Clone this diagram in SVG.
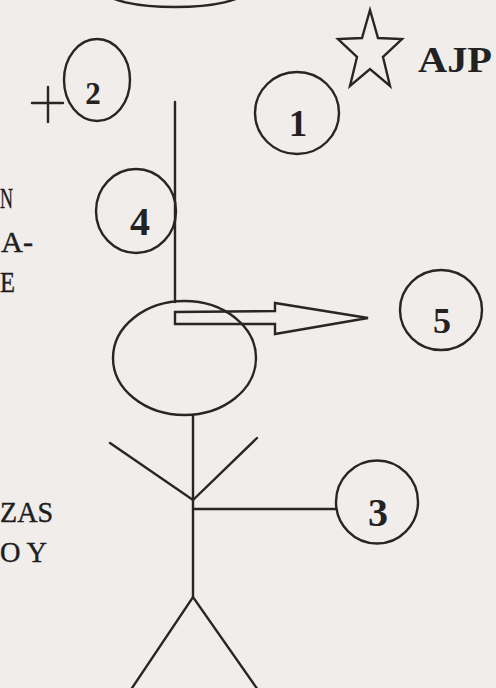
<svg xmlns="http://www.w3.org/2000/svg" width="496" height="688" viewBox="0 0 496 688">
  <style>
    .ln { fill: none; stroke: #262626; stroke-width: 2.4; stroke-linecap: round; stroke-linejoin: miter; }
    .num { font-family: "Liberation Serif", "Times New Roman", serif; font-weight: bold; fill: #222; text-anchor: middle; }
    .side { font-family: "Liberation Serif", "Times New Roman", serif; fill: #1e1e1e; stroke: #1e1e1e; stroke-width: 0.4; font-size: 29px; }
  </style>
  <rect x="0" y="0" width="496" height="688" fill="#f0edea"/>

  <g id="top-arc">
    <ellipse class="ln" cx="175" cy="-9" rx="70" ry="16"/>
  </g>

  <g id="side-text">
    <text class="side" x="0" y="208" textLength="13" lengthAdjust="spacingAndGlyphs">N</text>
    <text class="side" x="1" y="252" textLength="32" lengthAdjust="spacingAndGlyphs">A-</text>
    <text class="side" x="0" y="292" textLength="15" lengthAdjust="spacingAndGlyphs">E</text>
    <text class="side" x="0" y="522" textLength="53" lengthAdjust="spacingAndGlyphs">ZAS</text>
    <text class="side" x="0" y="562" textLength="47" lengthAdjust="spacingAndGlyphs">O Y</text>
  </g>

  <g id="plus">
    <path class="ln" d="M48,87 V122 M32,103 H63"/>
  </g>

  <g id="node-2">
    <ellipse class="ln" cx="97" cy="80" rx="33" ry="41"/>
    <text class="num" x="93" y="104" font-size="31">2</text>
  </g>

  <g id="node-1">
    <ellipse class="ln" cx="297" cy="113" rx="42" ry="41"/>
    <text class="num" x="298" y="136" font-size="37">1</text>
  </g>

  <g id="star-ajp">
    <polygon class="ln" points="370,10 378,38 402,39 383,57 390,86 370,69 350,86 357,57 338,39 362,38"/>
    <text x="418" y="72" font-family="Liberation Serif, Times New Roman, serif" font-weight="bold" font-size="36" fill="#222" textLength="74" lengthAdjust="spacingAndGlyphs">AJP</text>
  </g>

  <g id="node-4">
    <ellipse class="ln" cx="136" cy="211" rx="40" ry="42"/>
    <text class="num" x="140" y="235" font-size="40">4</text>
  </g>

  <g id="node-5">
    <ellipse class="ln" cx="441" cy="310" rx="41" ry="40"/>
    <text class="num" x="442" y="333" font-size="36">5</text>
  </g>

  <g id="node-3">
    <ellipse class="ln" cx="377" cy="502" rx="41" ry="41.5"/>
    <text class="num" x="378" y="526" font-size="40">3</text>
  </g>

  <g id="figure">
    <ellipse id="head" class="ln" cx="184.5" cy="358" rx="71.5" ry="57"/>
    <path id="body" class="ln" d="M193,415 V597"/>
    <path id="arms" class="ln" d="M110,443 L193,500 L257,438"/>
    <path id="legs" class="ln" d="M124,700 L193,597 L265,700"/>
  </g>

  <g id="connectors">
    <path class="ln" d="M175,102 V302"/>
    <polygon class="ln" points="175,312 275,311 275,303 368,318 275,334 275,324 175,324"/>
    <path class="ln" d="M193,509 H336"/>
  </g>
</svg>
